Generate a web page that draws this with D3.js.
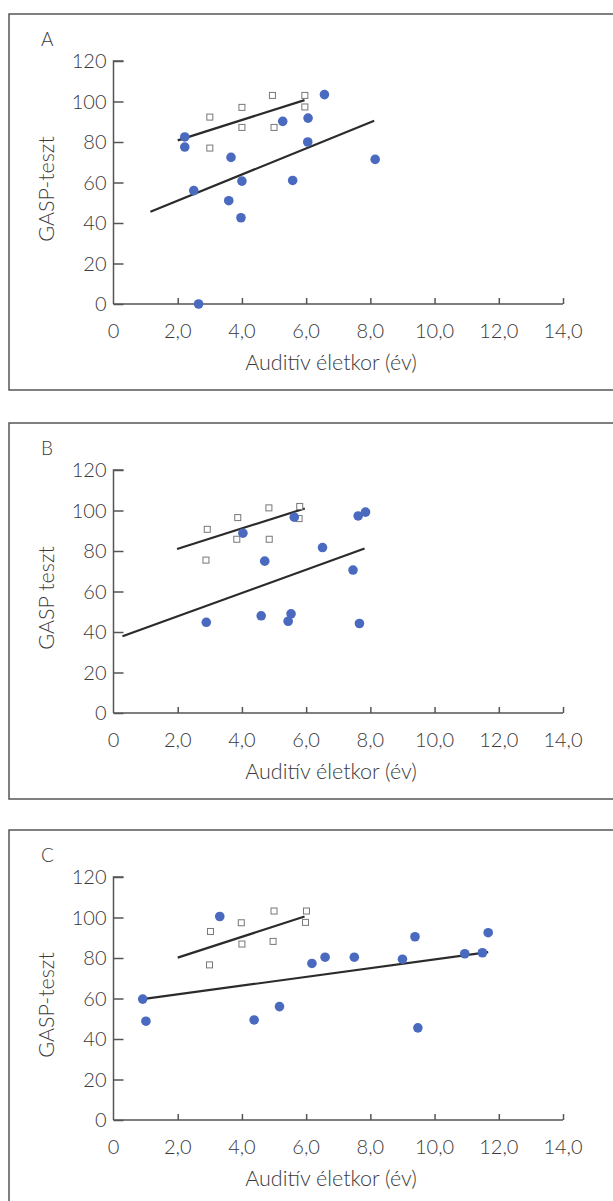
<!DOCTYPE html>
<head>
  <meta charset="utf-8">
  <title>GASP-teszt</title>
  <style>
      body {
          margin: 0;
          background-color: #fff;
      }
      svg text {
          font-family: Lato, "Open Sans", sans-serif;
          font-weight: 300;
          fill: #3a3a3a;
      }
  </style>
  <script src="https://d3js.org/d3.v7.js"></script>
</head>
<body>
<div id="chart"></div>

<script>
    // x ticks / y ticks
    const xTicks = [0, 2, 4, 6, 8, 10, 12, 14];
    const yTicks = [0, 20, 40, 60, 80, 100, 120];

    // panel A
    const dotsAx = [2.22, 2.22, 2.5, 2.65, 3.66, 3.59, 4.0, 3.97, 5.27, 5.58, 6.06, 6.05, 6.57, 8.15];
    const dotsAy = [82.5, 77.5, 56, 0, 72.4, 51, 60.7, 42.6, 90.2, 61, 91.8, 80, 103.4, 71.4];
    const boxAx = [3.0, 3.0, 4.0, 4.0, 4.95, 5.0, 5.96, 5.96];
    const boxAy = [92.3, 77, 97.1, 87.2, 103, 87.2, 103, 97.3];
    const fitA = [[1.15, 45.6], [8.12, 90.5]];
    const boxFitA = [[2.0, 80.8], [5.95, 100.7]];

    // panel B
    const dotsBx = [2.89, 4.03, 4.71, 4.6, 5.44, 5.53, 5.63, 6.51, 7.46, 7.62, 7.85, 7.66];
    const dotsBy = [44.8, 88.8, 75, 48, 45.3, 49, 96.7, 81.7, 70.6, 97.3, 99.2, 44.2];
    const boxBx = [2.92, 2.88, 3.87, 3.84, 4.84, 4.85, 5.8, 5.78];
    const boxBy = [90.7, 75.5, 96.5, 85.8, 101.3, 85.8, 102, 96];
    const fitB = [[0.28, 37.9], [7.82, 81.2]];
    const boxFitB = [[1.98, 81], [5.96, 101]];

    // panel C
    const dotsCx = [0.91, 1.01, 3.31, 4.38, 5.17, 6.18, 6.59, 7.5, 9.0, 9.39, 9.48, 10.94, 11.49, 11.67];
    const dotsCy = [59.7, 48.8, 100.5, 49.4, 56, 77.3, 80.4, 80.4, 79.4, 90.5, 45.5, 82.1, 82.6, 92.5];
    const boxCx = [3.02, 2.99, 3.98, 4.0, 5.0, 4.97, 6.01, 5.98];
    const boxCy = [93.1, 76.6, 97.4, 86.9, 103.2, 88.2, 103.2, 97.6];
    const fitC = [[0.96, 59.8], [11.67, 82.9]];
    const boxFitC = [[2.0, 80.2], [5.95, 100.5]];

    const W = 613, H = 1201;
    const svg = d3.select("#chart")
        .append("svg")
        .attr("width", W)
        .attr("height", H);

    function zip(xs, ys) {
        return xs.map((d, i) => [d, ys[i]]);
    }

    function drawPanel(top, letter, yLabel, dots, boxes, fit, boxFit) {
        const g = svg.append("g");

        // frame
        g.append("rect")
            .attr("x", 9)
            .attr("y", top)
            .attr("width", 640)
            .attr("height", 376)
            .attr("fill", "none")
            .attr("stroke", "#555")
            .attr("stroke-width", 1.5);

        const x = d3.scaleLinear().domain([0, 14]).range([113.5, 563]);
        const y = d3.scaleLinear().domain([0, 120]).range([top + 290, top + 47]);

        // y axis, ticks inward
        const yAxis = g.append("g")
            .attr("transform", `translate(${x(0)},0)`)
            .call(d3.axisRight(y).tickValues(yTicks).tickSize(10).tickFormat(""));
        yAxis.select(".domain")
            .attr("d", `M10,${y(120)}H0V${y(0)}`);
        yAxis.selectAll("path, line").attr("stroke", "#555").attr("stroke-width", 1.5);

        g.selectAll(".ylab")
            .data(yTicks)
            .join("text")
            .attr("x", x(0) - 7)
            .attr("y", d => y(d) + 7)
            .attr("text-anchor", "end")
            .style("font-size", "20px")
            .text(d => d);

        // x axis, ticks upward
        const xAxis = g.append("g")
            .attr("transform", `translate(0,${y(0)})`)
            .call(d3.axisTop(x).tickValues(xTicks.slice(1)).tickSize(6).tickFormat(""));
        xAxis.select(".domain").attr("d", `M${x(0)},0H${x(14)}`);
        xAxis.selectAll("path, line").attr("stroke", "#555").attr("stroke-width", 1.5);

        g.selectAll(".xlab")
            .data(xTicks)
            .join("text")
            .attr("x", d => x(d))
            .attr("y", y(0) + 34)
            .attr("text-anchor", "middle")
            .style("font-size", "20px")
            .text(d => d === 0 ? "0" : d.toFixed(1).replace(".", ","));

        // labels
        g.append("text")
            .attr("x", 331)
            .attr("y", top + 356)
            .attr("text-anchor", "middle")
            .style("font-size", "21.5px")
            .text("Auditív életkor (év)");

        g.append("text")
            .attr("transform", `translate(54,${top + 175}) rotate(-90)`)
            .attr("text-anchor", "middle")
            .style("font-size", "21.5px")
            .text(yLabel);

        g.append("text")
            .attr("x", 41)
            .attr("y", top + 32)
            .style("font-size", "19px")
            .text(letter);

        // regression lines
        const line = d3.line().x(d => x(d[0])).y(d => y(d[1]));
        g.selectAll(".fit")
            .data([fit, boxFit])
            .join("path")
            .attr("d", line)
            .attr("fill", "none")
            .attr("stroke", "#2b2b2b")
            .attr("stroke-width", 2.2);

        // open squares
        g.selectAll(".box")
            .data(boxes)
            .join("rect")
            .attr("x", d => x(d[0]) - 3)
            .attr("y", d => y(d[1]) - 3)
            .attr("width", 6)
            .attr("height", 6)
            .attr("fill", "#fff")
            .attr("stroke", "#777")
            .attr("stroke-width", 1);

        // filled dots
        g.selectAll(".dot")
            .data(dots)
            .join("circle")
            .attr("cx", d => x(d[0]))
            .attr("cy", d => y(d[1]))
            .attr("r", 4.8)
            .attr("fill", "#4a6ac0");
    }

    drawPanel(14, "A", "GASP-teszt", zip(dotsAx, dotsAy), zip(boxAx, boxAy), fitA, boxFitA);
    drawPanel(423, "B", "GASP teszt", zip(dotsBx, dotsBy), zip(boxBx, boxBy), fitB, boxFitB);
    drawPanel(830, "C", "GASP-teszt", zip(dotsCx, dotsCy), zip(boxCx, boxCy), fitC, boxFitC);
</script>
</body>
